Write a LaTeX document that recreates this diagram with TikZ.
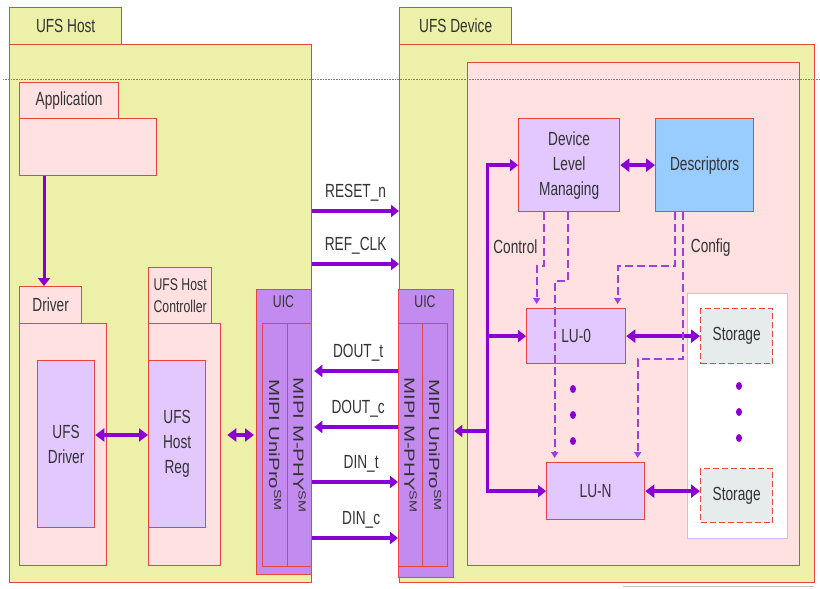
\documentclass[tikz,border=0pt]{standalone}
\usepackage{fontspec}
\setmainfont[FakeStretch=0.72]{Liberation Sans}
\newfontfamily\rotfont[FakeStretch=1.39]{Liberation Sans}
\usepackage{tikz}
\usetikzlibrary{arrows.meta,calc}
\definecolor{ufsred}{HTML}{E8463C}
\definecolor{ufsyellow}{HTML}{ECF0A8}
\definecolor{ufspink}{HTML}{FFE1E1}
\definecolor{ufslav}{HTML}{E2C8FF}
\definecolor{ufsuic}{HTML}{C38BF0}
\definecolor{ufsblue}{HTML}{99CCFF}
\definecolor{ufsgrey}{HTML}{E6ECEC}
\definecolor{ufsarrow}{HTML}{8A00D4}
\definecolor{ufsdash}{HTML}{A040D8}
\definecolor{ufstext}{HTML}{333333}
\tikzset{
	ufs diagram/.style={
		x=1pt,y=-1pt,
		font=\fontsize{19}{25}\selectfont,
		text=ufstext
	},
	% rectangles given by their two corners
	block/.style args={#1 to #2}{
		rectangle,
		draw=ufsred,
		line width=1.3pt,
		inner sep=0pt,
		align=center,
		anchor=north west,
		minimum width=#2,
		minimum height=#1
	},
	host part/.style={fill=ufsyellow},
	pink part/.style={fill=ufspink},
	lav part/.style={fill=ufslav},
	uic part/.style={fill=ufsuic},
	small label/.style={font=\fontsize{17}{22}\selectfont},
	signal/.style={
		draw=ufsarrow,
		line width=4.5pt,
		-{Triangle[length=8pt,width=12pt]}
	},
	twoway/.style={
		draw=ufsarrow,
		line width=4pt,
		{Triangle[length=9pt,width=13pt]}-{Triangle[length=9pt,width=13pt]}
	},
	bus/.style={
		draw=ufsarrow,
		line width=3pt
	},
	ctrl/.style={
		draw=ufsdash,
		line width=1.8pt,
		dash pattern=on 8pt off 4pt,
		-{Triangle[length=6pt,width=7pt]},
		shorten >=4pt
	},
	mipi/.style={
		rotate=-90,
		font=\rotfont\fontsize{14.7}{16}\selectfont
	}
}
\newcommand{\ufsbox}[6][]{% style, name, x1, y1, x2, y2 (text follows)
	\node[block={#6-#4 to #5-#3},#1] (#2) at (#3,#4)
}
\begin{document}
\begin{tikzpicture}[ufs diagram]
	\useasboundingbox (0,0) rectangle (820,589);
	% host side
	\ufsbox[host part]{hosttab}{9}{7}{121}{44} {UFS Host};
	\ufsbox[host part]{host}{9}{44}{311}{582} {};
	\ufsbox[pink part]{apptab}{19}{82}{118}{118} {Application};
	\ufsbox[pink part]{app}{19}{118}{156}{175} {};
	\ufsbox[pink part]{drvtab}{19}{286}{81}{323} {Driver};
	\ufsbox[pink part]{drv}{19}{323}{106}{565} {};
	\ufsbox[lav part]{udrv}{37}{360}{94}{527} {UFS\\Driver};
	\ufsbox[pink part,small label]{hctab}{148}{267}{211}{323} {UFS Host\\Controller};
	\ufsbox[pink part]{hc}{148}{323}{220}{565} {};
	\ufsbox[lav part]{hreg}{148}{360}{205}{527} {UFS\\Host\\Reg};
	\ufsbox[uic part]{huic}{256}{289}{311}{574} {};
	\node[small label] (huiclabel) at (283.5,302) {UIC};
	\ufsbox[uic part]{hunipro}{262}{323}{287}{566} {};
	\ufsbox[uic part]{hmphy}{287}{323}{311}{566} {};
	\node[mipi] at (hunipro.center) {MIPI UniPro\textsuperscript{SM}};
	\node[mipi] at (hmphy.center) {MIPI M-PHY\textsuperscript{SM}};
	% device side
	\ufsbox[host part]{devtab}{399}{7}{511}{44} {UFS Device};
	\ufsbox[host part]{dev}{399}{44}{814}{582} {};
	\ufsbox[pink part]{devcore}{467}{62}{799}{565} {};
	\ufsbox[uic part]{duic}{398}{289}{453}{577} {};
	\node[small label] (duiclabel) at (425,302) {UIC};
	\ufsbox[uic part]{dmphy}{398}{323}{422}{566} {};
	\ufsbox[uic part]{dunipro}{422}{323}{447}{566} {};
	\node[mipi] at (dmphy.center) {MIPI M-PHY\textsuperscript{SM}};
	\node[mipi] at (dunipro.center) {MIPI UniPro\textsuperscript{SM}};
	\ufsbox[lav part]{dlm}{518}{118}{619}{211} {Device\\Level\\Managing};
	\ufsbox[fill=ufsblue]{desc}{655}{118}{753}{211} {Descriptors};
	\ufsbox[lav part]{lu0}{526}{308}{625}{363} {LU-0};
	\ufsbox[lav part]{lun}{546}{462}{644}{519} {LU-N};
	\ufsbox[fill=white,draw={rgb,255:red,212;green,184;blue,240}]{stpanel}{687}{293}{787}{538} {};
	\ufsbox[fill=ufsgrey,dashed,dash pattern=on 6pt off 3pt]{st0}{700}{308}{772}{363} {Storage};
	\ufsbox[fill=ufsgrey,dashed,dash pattern=on 6pt off 3pt]{stn}{700}{468}{772}{522} {Storage};
	% levels of the links
	\coordinate (yreset) at (0,211);
	\coordinate (yclk) at (0,264);
	\coordinate (ydoutt) at (0,371);
	\coordinate (ydoutc) at (0,427);
	\coordinate (ydint) at (0,482);
	\coordinate (ydinc) at (0,538);
	\coordinate (yhost) at (0,435);
	\coordinate (bus) at (487,0);
	% host links
	\draw[signal,line width=3pt] ([xshift=25pt]app.south west) coordinate (appout) -- (appout |- drvtab.north);
	\draw[twoway] (udrv.east |- yhost) -- (hreg.west |- yhost);
	\draw[twoway,shorten <=6pt,shorten >=2pt] (hc.east |- yhost) -- (huic.west |- yhost);
	% host to device
	\draw[signal] (host.east |- yreset) -- node[above=4pt] {RESET\_n} (dev.west |- yreset);
	\draw[signal] (host.east |- yclk) -- node[above=4pt] {REF\_CLK} (dev.west |- yclk);
	\draw[signal,shorten >=2pt] (duic.west |- ydoutt) -- node[above=4pt,xshift=3pt] {DOUT\_t} (huic.east |- ydoutt);
	\draw[signal,shorten >=2pt] (duic.west |- ydoutc) -- node[above=4pt,xshift=3pt] {DOUT\_c} (huic.east |- ydoutc);
	\draw[signal] (huic.east |- ydint) -- node[above=4pt,xshift=6pt] {DIN\_t} (duic.west |- ydint);
	\draw[signal] (huic.east |- ydinc) -- node[above=4pt,xshift=6pt] {DIN\_c} (duic.west |- ydinc);
	% device links
	\draw[bus] (bus |- dlm.west) -- (bus |- lun.west);
	\draw[signal,line width=4pt] ([xshift=-1.5pt]bus |- dlm.west) -- (dlm.west);
	\draw[signal,line width=4pt] ([xshift=-1.5pt]bus |- lu0.west) -- (lu0.west);
	\draw[signal,line width=4pt] ([xshift=-1.5pt]bus |- lun.west) -- (lun.west);
	\draw[signal,line width=4pt] ([xshift=1.5pt]bus |- 0,431) -- (duic.east |- 0,431);
	\draw[twoway] (dlm.east) -- (desc.west);
	\draw[twoway,line width=3.5pt] (lu0.east) -- (st0.west);
	\draw[twoway,line width=3.5pt] (lun.east) -- (stn.west |- lun.east);
	% dots
	\foreach \y in {389,415,441} {
		\fill[ufsarrow] (573,\y) ellipse[x radius=3pt,y radius=4pt];
		\fill[ufsarrow] (739,\y-3) ellipse[x radius=3pt,y radius=4pt];
	}
	% control and config paths
	\draw[ctrl] ([xshift=-25.5pt]dlm.south) -- node[pos=0.63,left=2pt] {Control} ++(0,54) -| ([xshift=-39.5pt]lu0.north);
	\draw[ctrl] ([xshift=-1.5pt]dlm.south) -- ++(0,69) -| ([xshift=-41pt]lun.north);
	\draw[ctrl] ([xshift=-30pt]desc.south) -- ++(0,54) -| ([xshift=41.5pt]lu0.north);
	\draw[ctrl] ([xshift=-22pt]desc.south) -- node[pos=0.24,right=4pt] {Config} ++(0,147) -| ([xshift=42pt]lun.north);
	% screen marks
	\draw[gray,line width=0.6pt,densely dotted] (3,79) -- (820,79);
	\draw[gray!50,line width=1pt] (623,586) -- (814,586);
\end{tikzpicture}
\end{document}
